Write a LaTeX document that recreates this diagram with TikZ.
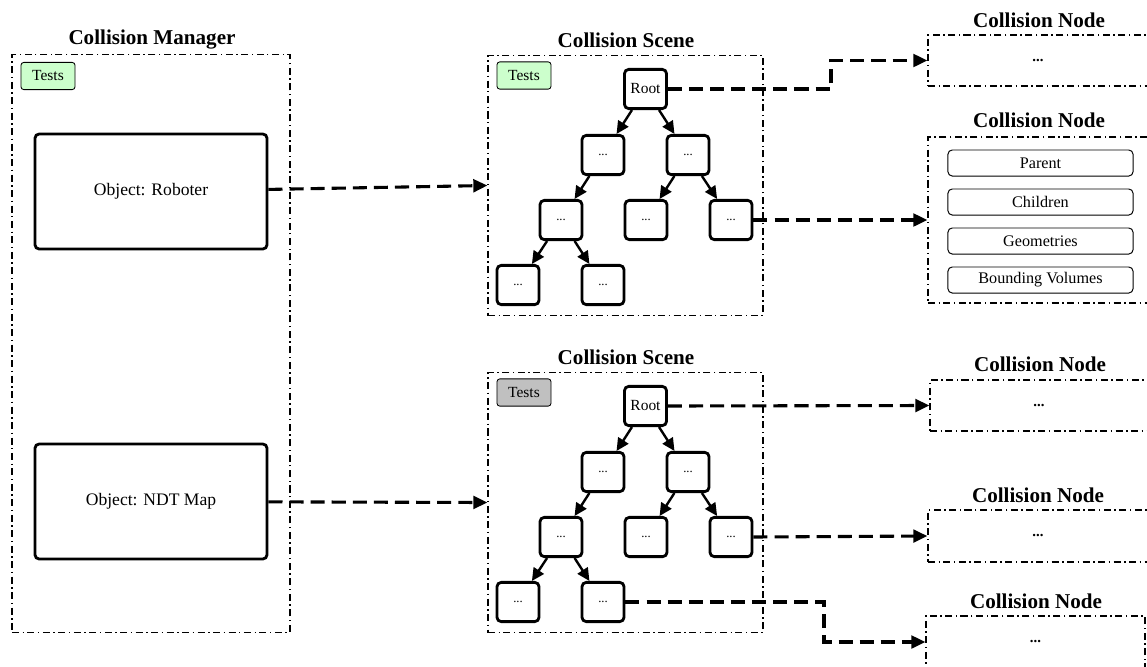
\documentclass[tikz,border=0pt]{standalone}
\usepackage{fontspec}
\setmainfont{Liberation Serif}
\usetikzlibrary{arrows.meta}
\definecolor{testgreen}{HTML}{CCFFCC}
\definecolor{testgrey}{HTML}{C0C0C0}

\begin{document}
\begin{tikzpicture}[x=0.025cm, y=-0.025cm]
    % Styles for frames, boxes and lines
    \tikzset{
      frame/.style={rectangle, draw=black, line width=0.8pt, dash pattern=on 5pt off 2.5pt on 1pt off 2.5pt},
      title/.style={font=\fontsize{15}{18}\selectfont\bfseries},
      tests/.style={rectangle, rounded corners=2pt, draw=black, line width=0.6pt, minimum width=1.35cm, minimum height=0.68cm, inner sep=0pt, font=\fontsize{11}{13}\selectfont},
      object/.style={rectangle, rounded corners=3pt, draw=black, line width=2pt, minimum width=5.8cm, minimum height=2.875cm, font=\fontsize{12.5}{15}\selectfont},
      tnode/.style={rectangle, rounded corners=3pt, draw=black, line width=2pt, minimum width=1.05cm, minimum height=0.98cm, inner sep=0pt, font=\fontsize{9}{11}\selectfont},
      field/.style={rectangle, rounded corners=3pt, draw=black, line width=0.7pt, minimum width=4.625cm, minimum height=0.65cm, inner sep=0pt, font=\fontsize{11.5}{13}\selectfont},
      dots/.style={font=\fontsize{10.5}{12}\selectfont\bfseries},
      link/.style={line width=2.2pt, dash pattern=on 10pt off 5pt, -{Triangle[length=10pt,width=9pt]}},
      branch/.style={line width=1.7pt, -{Triangle[length=9pt,width=8.5pt]}}
    }
    \useasboundingbox (0,0) rectangle (1147,666);

    % Collision manager
    \node[title] at (152,40) {Collision Manager};
    \node[frame, minimum width=6.95cm, minimum height=14.425cm] (manager) at (151,343.5) {};
    \node[tests, fill=testgreen] (mtests) at (48,76) {Tests};
    \node[object] (robot) at (151,191.5) {Object: Roboter};
    \node[object] (ndt) at (151,501.5) {Object: NDT Map};

    % Collision scenes with their trees
    \foreach \s/\dy/\col in {1/0/testgreen, 2/317/testgrey} {
      \node[title] at (626,40+\dy) {Collision Scene};
      \node[frame, minimum width=6.875cm, minimum height=6.5cm] (scene\s) at (625.5,185.5+\dy) {};
      \node[tests, fill=\col] (stests\s) at (524,75.5+\dy) {Tests};
      \node[tnode, font=\fontsize{11}{13}\selectfont] (r\s) at (645.5,89+\dy) {Root};
      \node[tnode] (a\s) at (603,155+\dy) {...};
      \node[tnode] (b\s) at (688,155+\dy) {...};
      \node[tnode] (c\s) at (561,220+\dy) {...};
      \node[tnode] (d\s) at (646,220+\dy) {...};
      \node[tnode] (e\s) at (731,220+\dy) {...};
      \node[tnode] (f\s) at (518,285+\dy) {...};
      \node[tnode] (g\s) at (603,285+\dy) {...};
      \foreach \p/\c in {r/a, r/b, a/c, b/d, b/e, c/f, c/g}
        \draw[branch] (\p\s) -- (\c\s);
    }

    % Collision nodes
    \node[title] at (1039,20) {Collision Node};
    \node[frame, minimum width=5.5cm, minimum height=1.275cm, dots] (cn1) at (1038,60.5) {...};
    \node[title] at (1039,120) {Collision Node};
    \node[frame, minimum width=5.5cm, minimum height=4.15cm] (cn2) at (1038,220) {};
    \node[field] (parent) at (1040.5,163) {Parent};
    \node[field] (children) at (1040.5,202) {Children};
    \node[field] (geoms) at (1040.5,241) {Geometries};
    \node[field] (bvols) at (1040.5,280) {Bounding Volumes};
    \node[title] at (1040,364) {Collision Node};
    \node[frame, minimum width=5.45cm, minimum height=1.275cm, dots] (cn3) at (1039,405.5) {...};
    \node[title] at (1038,495) {Collision Node};
    \node[frame, minimum width=5.5cm, minimum height=1.3cm, dots] (cn4) at (1038,536) {...};
    \node[title] at (1036,601) {Collision Node};
    \node[frame, minimum width=5.475cm, minimum height=1.3cm, dots] (cn5) at (1035.5,642) {...};

    % Bends of the routed links
    \coordinate (k1) at (831,0);
    \coordinate (k2) at (824,0);

    % Links between the parts
    \draw[link] (robot) -- (scene1.west);
    \draw[link] (ndt) -- (scene2.west);
    \draw[link] (r1.east) -- (r1.east -| k1) |- (cn1.west);
    \draw[link] (e1.east) -- (cn2.west);
    \draw[link] (r2.east) -- (cn3.west);
    \draw[link] (e2.east) -- (cn4.west);
    \draw[link] (g2.east) -- (g2.east -| k2) |- (cn5.west);

\end{tikzpicture}
\end{document}
